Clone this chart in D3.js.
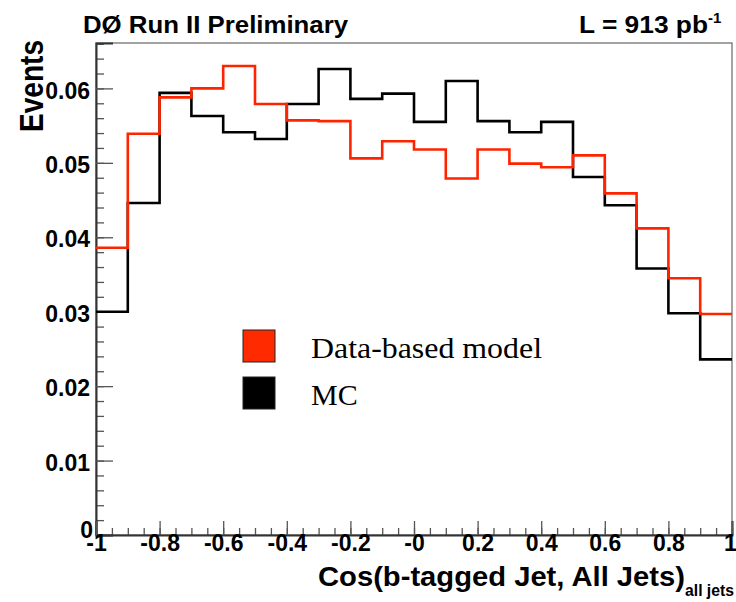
<!DOCTYPE html>
<html>
<head>
<meta charset="utf-8">
<script src="https://cdn.jsdelivr.net/npm/d3@7"></script>
<style>
  html, body { margin: 0; padding: 0; background: #fff; }
  svg { display: block; }
</style>
</head>
<body>
<svg id="chart" width="736" height="602"></svg>
<script>
// ---- data ----
const binEdges = [-1, -0.9, -0.8, -0.7, -0.6, -0.5, -0.4, -0.3, -0.2, -0.1, 0,
                  0.1, 0.2, 0.3, 0.4, 0.5, 0.6, 0.7, 0.8, 0.9, 1];
const dataModel = [0.0386, 0.0539, 0.0588, 0.0600, 0.0630, 0.0579, 0.0557, 0.0556, 0.0506, 0.0529,
                   0.0518, 0.0479, 0.0518, 0.0499, 0.0494, 0.0510, 0.0459, 0.0412, 0.0345, 0.0297];
const mcValues  = [0.0300, 0.0446, 0.0594, 0.0563, 0.0541, 0.0532, 0.0579, 0.0626, 0.0586, 0.0593,
                   0.0555, 0.0610, 0.0556, 0.0541, 0.0555, 0.0481, 0.0443, 0.0358, 0.0298, 0.0236];
const xTickValues = [-1, -0.8, -0.6, -0.4, -0.2, 0, 0.2, 0.4, 0.6, 0.8, 1];
const xTickLabels = ["-1", "-0.8", "-0.6", "-0.4", "-0.2", "-0", "0.2", "0.4", "0.6", "0.8", "1"];
const yTickValues = [0, 0.01, 0.02, 0.03, 0.04, 0.05, 0.06];
const yTickLabels = ["0", "0.01", "0.02", "0.03", "0.04", "0.05", "0.06"];
const legendLabels = ["Data-based model", "MC"];
const seriesColors = ["#ff2400", "#000000"];

// ---- layout ----
const svg = d3.select("#chart");
const L = 96, R = 732, T = 43, B = 535;
const x = d3.scaleLinear().domain([-1, 1]).range([L, R]);
const y = d3.scaleLinear().domain([0, 0.0661]).range([B, T]);
const font = "'Liberation Sans', Arial, sans-serif";
const axisColor = "#333";

// frame
svg.append("rect").attr("x", L).attr("y", T).attr("width", R - L).attr("height", B - T)
  .attr("fill", "none").attr("stroke", "#666").attr("stroke-width", 1.2);

// minor ticks
const yMinor = d3.range(0, 0.0661, 0.002);
svg.append("g").attr("transform", `translate(${L},0)`)
  .call(d3.axisLeft(y).tickValues(yMinor).tickSize(-8).tickFormat(""))
  .call(g => { g.select(".domain").remove(); g.selectAll("line").attr("stroke", "#555").attr("stroke-width", 1.3); });
const xMinor = d3.range(-1, 1.0001, 0.05);
svg.append("g").attr("transform", `translate(0,${B})`)
  .call(d3.axisBottom(x).tickValues(xMinor).tickSize(-7).tickFormat(""))
  .call(g => { g.select(".domain").remove(); g.selectAll("line").attr("stroke", "#555").attr("stroke-width", 1.3); });

// major axes
svg.append("g").attr("transform", `translate(${L},0)`)
  .call(d3.axisLeft(y).tickValues(yTickValues).tickSize(-17).tickPadding(6)
        .tickFormat((d, i) => yTickLabels[i]))
  .call(g => {
    g.select(".domain").attr("stroke", axisColor).attr("stroke-width", 2);
    g.selectAll("line").attr("stroke", "#555").attr("stroke-width", 1.3);
    g.selectAll("text").attr("font-family", font).attr("font-weight", "bold")
      .attr("font-size", 23).attr("fill", "#000").attr("dy", "0.42em");
    g.selectAll(".tick").filter(d => d === 0).select("text").attr("dx", 3).attr("dy", "0.12em");
  });
svg.append("g").attr("transform", `translate(0,${B})`)
  .call(d3.axisBottom(x).tickValues(xTickValues).tickSize(-14).tickPadding(3)
        .tickFormat((d, i) => xTickLabels[i]))
  .call(g => {
    g.select(".domain").attr("stroke", axisColor).attr("stroke-width", 2);
    g.selectAll("line").attr("stroke", "#555").attr("stroke-width", 1.3);
    g.selectAll("text").attr("font-family", font).attr("font-weight", "bold")
      .attr("font-size", 23).attr("fill", "#000").attr("dy", "0.55em");
    g.selectAll(".tick").filter(d => d === 1).select("text").attr("dx", -2);
  });

// histograms (MC first, model on top)
const line = d3.line().x(d => x(d[0])).y(d => y(d[1])).curve(d3.curveStepAfter);
function pts(vals) {
  const p = vals.map((v, i) => [binEdges[i], v]);
  p.push([binEdges[binEdges.length - 1], vals[vals.length - 1]]);
  return p;
}
svg.append("path").attr("d", line(pts(mcValues))).attr("fill", "none")
  .attr("stroke", seriesColors[1]).attr("stroke-width", 2.6);
svg.append("path").attr("d", line(pts(dataModel))).attr("fill", "none")
  .attr("stroke", seriesColors[0]).attr("stroke-width", 2.6);

// titles
svg.append("text").attr("x", 83).attr("y", 33).attr("font-family", font).attr("font-weight", "bold")
  .attr("font-size", 23).attr("textLength", 265).attr("lengthAdjust", "spacingAndGlyphs")
  .text("DØ Run II Preliminary");
const lum = svg.append("text").attr("x", 579).attr("y", 33).attr("font-family", font)
  .attr("font-weight", "bold").attr("font-size", 24);
lum.append("tspan").attr("textLength", 129).attr("lengthAdjust", "spacingAndGlyphs").text("L = 913 pb");
lum.append("tspan").attr("dy", -10).attr("font-size", 15).text("-1");

// y title
svg.append("text").attr("transform", "translate(43,132) rotate(-90)")
  .attr("font-family", font).attr("font-weight", "bold").attr("font-size", 33)
  .attr("textLength", 92).attr("lengthAdjust", "spacingAndGlyphs")
  .text("Events");

// x title
const xt = svg.append("text").attr("x", 318).attr("y", 586).attr("font-family", font)
  .attr("font-weight", "bold").attr("font-size", 27);
xt.append("tspan").attr("textLength", 367).attr("lengthAdjust", "spacingAndGlyphs")
  .text("Cos(b-tagged Jet, All Jets)");
xt.append("tspan").attr("dy", 10).attr("font-size", 16)
  .attr("textLength", 49).attr("lengthAdjust", "spacingAndGlyphs").text("all jets");

// legend
const serif = "'Liberation Serif', 'Times New Roman', serif";
const leg = svg.append("g");
legendLabels.forEach((lab, i) => {
  const gy = 330 + i * 47;
  leg.append("rect").attr("x", 243).attr("y", gy).attr("width", 32).attr("height", 32)
    .attr("fill", seriesColors[i] === "#ff2400" ? "#ff2a00" : seriesColors[i])
    .attr("stroke", "#222").attr("stroke-width", 1);
  const t = leg.append("text").attr("x", 311).attr("y", gy + 28).attr("font-family", serif)
    .attr("font-size", 30).attr("fill", "#000").text(lab);
  if (i === 0) t.attr("textLength", 231).attr("lengthAdjust", "spacingAndGlyphs");
});
</script>
</body>
</html>
